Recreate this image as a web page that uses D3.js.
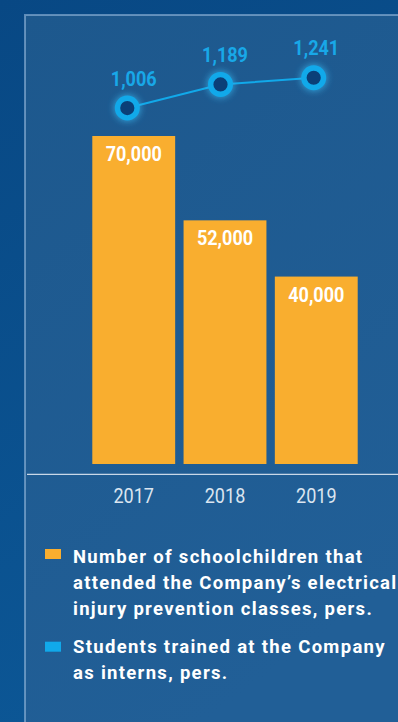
<!DOCTYPE html>
<html>
<head>
<meta charset="utf-8">
<script src="https://cdn.jsdelivr.net/npm/d3@7"></script>
<style>
  html, body { margin: 0; padding: 0; background: #0a4a85; }
  svg { display: block; }
</style>
</head>
<body>
<svg id="chart" width="398" height="722"></svg>
<script>
// Years on the category axis
const years = ["2017", "2018", "2019"];
// Schoolchildren who attended electrical injury prevention classes, pers.
const schoolchildren = [70000, 52000, 40000];
// Students trained at the Company as interns, pers.
const interns = [1006, 1189, 1241];
// Legend entries (pre-wrapped lines)
const legendSchool = ["Number of schoolchildren that", "attended the Company\u2019s electrical", "injury prevention classes, pers."];
const legendInterns = ["Students trained at the Company", "as interns, pers."];

const W = 398, H = 722;
const orange = "#f9ae2f";
const cyan = "#11a9ea";
const fmt = d3.format(",");

const svg = d3.select("#chart");
const defs = svg.append("defs");

const bg = defs.append("linearGradient").attr("id", "bg").attr("x1", 0).attr("y1", 0).attr("x2", 0.3).attr("y2", 1);
bg.append("stop").attr("offset", 0).attr("stop-color", "#084884");
bg.append("stop").attr("offset", 1).attr("stop-color", "#0c5796");

const panel = defs.append("linearGradient").attr("id", "panel").attr("x1", 0).attr("y1", 0).attr("x2", 0.4).attr("y2", 1);
panel.append("stop").attr("offset", 0).attr("stop-color", "#1d588d");
panel.append("stop").attr("offset", 1).attr("stop-color", "#215f97");

const glow = defs.append("filter").attr("id", "glow").attr("x", "-100%").attr("y", "-100%").attr("width", "300%").attr("height", "300%");
glow.append("feGaussianBlur").attr("stdDeviation", 3.5);

// Backdrop and framed panel
svg.append("rect").attr("width", W).attr("height", H).attr("fill", "url(#bg)");
svg.append("rect").attr("x", 25).attr("y", 15).attr("width", W).attr("height", H)
  .attr("fill", "url(#panel)")
  .attr("stroke", "rgba(150,185,220,0.6)").attr("stroke-width", 2);

// Scales
const x = d3.scaleBand().domain(years).range([92.3, 357.7]).paddingInner(0.092).paddingOuter(0);
const y = d3.scaleLinear().domain([0, 70000]).range([464, 136]);
const xp = d3.scalePoint().domain(years).range([127.3, 313.7]);
const y2 = d3.scaleLinear().domain([1000, 1250]).range([108.8, 76.6]);

const numFont = "Roboto, 'Noto Sans', sans-serif";
const squeeze = 0.88; // narrow the digits horizontally

// Places a horizontally condensed label centred at (cx, baseline)
function numLabel(sel, cx, cy) {
  return sel.attr("transform", (d, i) => `translate(${cx(d, i)},${cy(d, i)}) scale(${squeeze},1)`)
    .attr("text-anchor", "middle")
    .attr("font-family", numFont)
    .attr("font-size", 20.5);
}

// Bars
const bars = svg.append("g");
bars.selectAll("rect").data(schoolchildren).join("rect")
  .attr("x", (d, i) => x(years[i]))
  .attr("y", d => y(d))
  .attr("width", x.bandwidth())
  .attr("height", d => y(0) - y(d))
  .attr("fill", orange);

numLabel(bars.selectAll("text").data(schoolchildren).join("text"),
    (d, i) => x(years[i]) + x.bandwidth() / 2, d => y(d) + 25)
  .attr("fill", "#ffffff")
  .attr("font-weight", 700)
  .text(d => fmt(d));

// Baseline and year labels
svg.append("line").attr("x1", 27).attr("x2", W).attr("y1", 474.3).attr("y2", 474.3)
  .attr("stroke", "#c9d8e8").attr("stroke-width", 1.2);

numLabel(svg.append("g").selectAll("text").data(years).join("text"),
    d => x(d) + x.bandwidth() / 2, () => 503.3)
  .attr("fill", "#dbe5f0")
  .attr("font-weight", 400)
  .text(d => d);

// Interns line with ringed markers
const pts = interns.map((v, i) => [xp(years[i]), y2(v)]);
svg.append("path")
  .attr("d", d3.line()(pts))
  .attr("fill", "none")
  .attr("stroke", cyan)
  .attr("stroke-width", 2);

const marks = svg.append("g").selectAll("g").data(interns).join("g")
  .attr("transform", (d, i) => `translate(${xp(years[i])},${y2(d)})`);
marks.append("circle").attr("r", 13).attr("fill", "#39b8f0").attr("opacity", 0.8).attr("filter", "url(#glow)");
marks.append("circle").attr("r", 9.8).attr("fill", "#0b3f78").attr("stroke", cyan).attr("stroke-width", 5.4);

numLabel(svg.append("g").selectAll("text").data(interns).join("text"),
    (d, i) => x(years[i]) + x.bandwidth() / 2, d => y2(d) - 22.5)
  .attr("fill", "#18a8e8")
  .attr("font-weight", 700)
  .text(d => fmt(d));

// Legend
const legend = svg.append("g").attr("font-family", "Roboto, 'Noto Sans', sans-serif")
  .attr("font-weight", 700).attr("font-size", 18.5).attr("letter-spacing", 1.3).attr("fill", "#ffffff");

function legendItem(color, lines, top, baseline) {
  legend.append("rect").attr("x", 45).attr("y", top).attr("width", 16).attr("height", 10).attr("fill", color);
  const t = legend.append("text").attr("x", 73).attr("y", baseline);
  lines.forEach((s, i) => t.append("tspan").attr("x", 73).attr("dy", i ? 26 : 0).text(s));
}
legendItem(orange, legendSchool, 549, 563);
legendItem(cyan, legendInterns, 641.7, 652.7);
</script>
</body>
</html>
